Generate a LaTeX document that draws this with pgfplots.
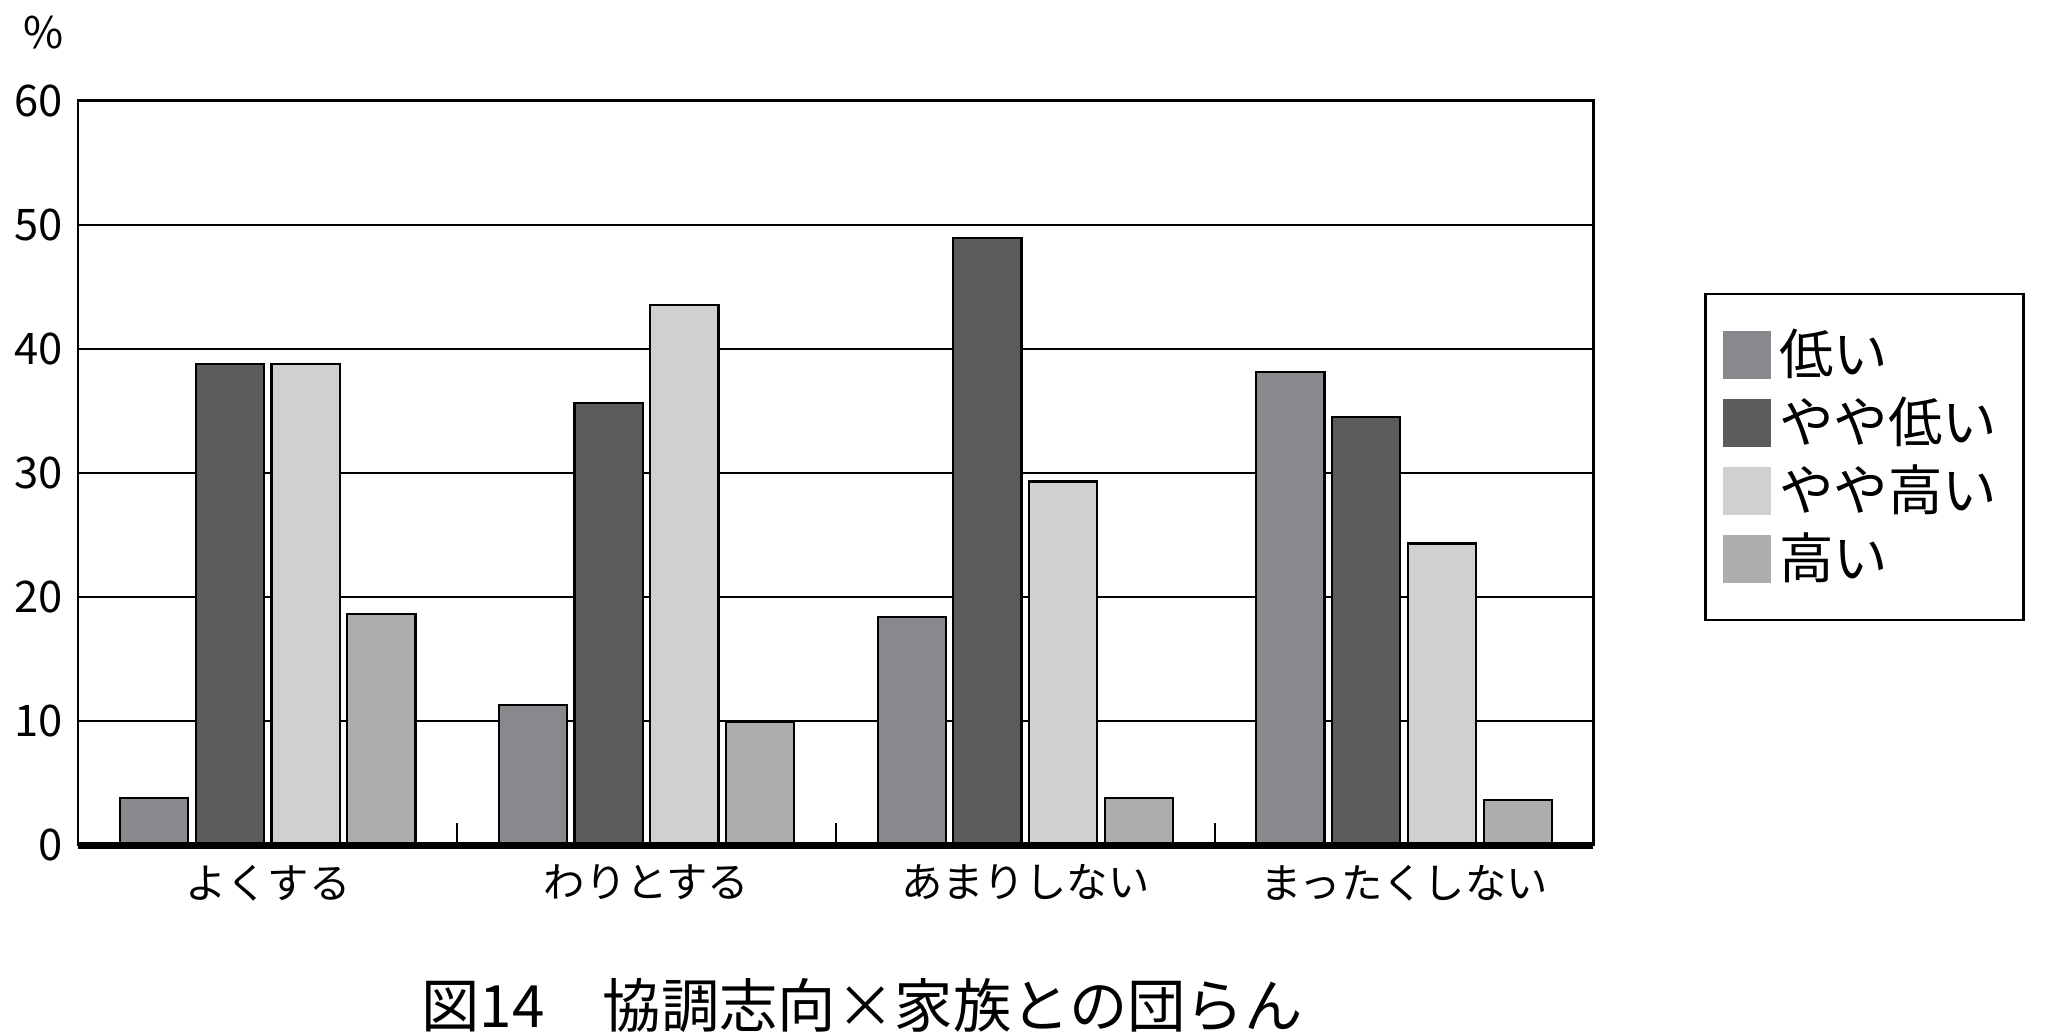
\documentclass[border=0pt]{standalone}
\usepackage{fontspec}
\setmainfont{Noto Sans CJK JP}
\usepackage{pgfplots}
\usepackage{pgfplotstable}
\pgfplotsset{compat=1.18}
\definecolor{cLo}{HTML}{88898D}
\definecolor{cMlo}{HTML}{5B5D5B}
\definecolor{cMhi}{HTML}{D0D0D0}
\definecolor{cHi}{HTML}{ADADAF}
\pgfplotstableread{
x lo mlo mhi hi
0 3.8 38.8 38.8 18.6
1 11.3 35.6 43.5 9.9
2 18.4 48.9 29.3 3.8
3 38.1 34.5 24.3 3.6
}\data
\begin{document}
\begin{tikzpicture}
\path[use as bounding box] (-18pt,-43.5pt) rectangle (452.4pt,194.1pt);
\begin{axis}[
  at={(0,0)}, anchor=south west,
  scale only axis, width=348pt, height=171pt,
  ybar,
  bar width=0.18,
  xmin=-0.5, xmax=3.5, ymin=0, ymax=60,
  ytick={0,10,...,60},
  xtick={0,1,2,3},
  xticklabels={よくする,わりとする,あまりしない,まったくしない},
  minor xtick={0.5,1.5,2.5},
  major tick length=0pt,
  minor tick length=5pt,
  minor tick style={black, line width=0.5pt},
  tick align=inside,
  xtick pos=bottom, ytick pos=left,
  ymajorgrids,
  grid style={black, line width=0.5pt},
  axis line style={black, line width=0.5pt},
  /pgf/number format/assume math mode=true,
  yticklabel style={font=\fontsize{10}{12}\selectfont},
  xticklabel style={font=\fontsize{9.5}{11}\selectfont, yshift=-1pt},
  legend style={at={(1.073,0.742)}, anchor=north west, draw=black, line width=0.6pt,
    font=\fontsize{12.5}{15}\selectfont, inner xsep=4pt, inner ysep=6pt, row sep=-0.35pt,
    /tikz/every even column/.append style={column sep=1pt}},
  legend cell align=left,
  legend image code/.code={\path[#1, draw=none] (0pt,-5.5pt) rectangle (11pt,5.5pt);},
  clip=false,
]
\addplot[fill=cLo, draw=black, line width=0.5pt, bar shift=-0.3] table[x=x, y=lo] {\data};
\addplot[fill=cMlo, draw=black, line width=0.5pt, bar shift=-0.1] table[x=x, y=mlo] {\data};
\addplot[fill=cMhi, draw=black, line width=0.5pt, bar shift=0.1] table[x=x, y=mhi] {\data};
\addplot[fill=cHi, draw=black, line width=0.5pt, bar shift=0.3] table[x=x, y=hi] {\data};
\legend{低い,やや低い,やや高い,高い}
\draw[black, line width=1.6pt] (axis cs:-0.5,0) -- (axis cs:3.5,0);
\end{axis}
\node[font=\fontsize{10}{12}\selectfont] at (-8.1pt,186.6pt) {\%};
\node[font=\fontsize{13.4}{16}\selectfont] at (180pt,-36.9pt) {図14\hspace{1em}協調志向×家族との団らん};
\end{tikzpicture}
\end{document}
